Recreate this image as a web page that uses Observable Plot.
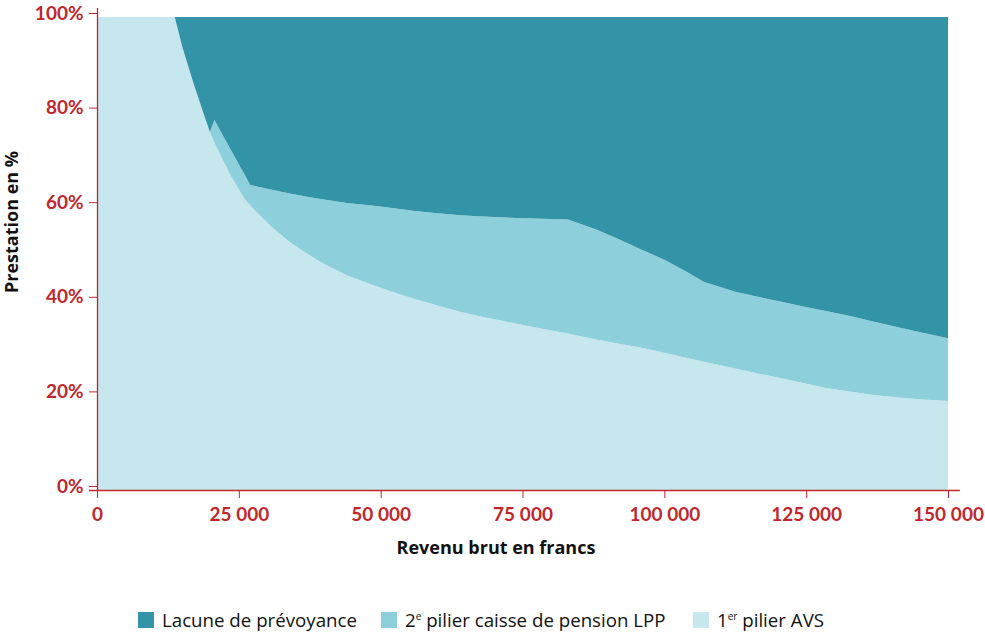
<!DOCTYPE html>
<html>
<head>
<meta charset="utf-8">
<script src="https://cdn.jsdelivr.net/npm/d3@7"></script>
<script src="https://cdn.jsdelivr.net/npm/@observablehq/plot@0.6"></script>
<style>
  html, body { margin: 0; padding: 0; background: #fff; }
  body { width: 985px; height: 633px; overflow: hidden; font-family: "Open Sans", Lato, sans-serif; }
  #legend { position: relative; height: 33px; font-size: 18.7px; color: #111; }
  .item { position: absolute; top: 7px; display: flex; align-items: center; white-space: nowrap; }
  .sw { width: 16px; height: 16px; margin-right: 8px; }
  sup { font-size: 10px; vertical-align: 7px; line-height: 0; }
</style>
</head>
<body>
<div id="chart"></div>
<div id="legend"></div>
<script>
// Data: gross income (francs) and benefit shares in % of income
const incomes = [0, 13700, 15000, 17000, 19000, 19900, 20700, 23500, 26000, 27000, 28000, 31000, 34000, 37000, 40000, 44000, 48000, 52000, 56000, 60000, 64000, 68000, 72000, 77000, 83000, 88000, 92000, 96000, 100000, 104000, 107000, 112500, 116500, 120600, 124700, 128700, 132700, 136800, 140800, 144900, 150000];
const avs = [100, 100, 93.8, 86.0, 78.8, 75.7, 73.4, 66.6, 61.6, 60.2, 58.9, 55.4, 52.4, 50.0, 47.8, 45.4, 43.6, 41.9, 40.4, 39.0, 37.7, 36.6, 35.6, 34.4, 33.1, 31.8, 30.9, 30.1, 29.0, 27.9, 27.1, 25.7, 24.65, 23.6, 22.55, 21.5, 20.8, 20.1, 19.6, 19.2, 18.8];
const lpp = [0, 0, 0, 0, 0, 0, 4.8, 5.5, 5.1, 4.3, 5.3, 8.0, 10.3, 12.0, 13.6, 15.3, 16.6, 17.7, 18.6, 19.5, 20.4, 21.2, 22.0, 23.0, 24.1, 23.3, 22.1, 20.7, 19.7, 18.2, 16.9, 16.2, 16.2, 16.2, 16.2, 16.3, 16.0, 15.5, 14.9, 14.2, 13.3];
const seriesNames = ["1er pilier AVS", "2e pilier caisse de pension LPP", "Lacune de prévoyance"];
const seriesColors = ["#c6e7ee", "#8ecfdc", "#3494a7"];
const xTicks = [0, 25000, 50000, 75000, 100000, 125000, 150000];
const yTicks = [0, 20, 40, 60, 80, 100];

const rows = [];
incomes.forEach((x, i) => {
  rows.push({x, series: seriesNames[0], v: avs[i]});
  rows.push({x, series: seriesNames[1], v: lpp[i]});
  rows.push({x, series: seriesNames[2], v: Math.max(0, 100 - avs[i] - lpp[i])});
});

const red = "#c0272d";
const fmt = d => d === 0 ? "0" : d3.format(",")(d).replace(/,/g, "\u202F");

const plot = Plot.plot({
  width: 985,
  height: 600,
  marginLeft: 97,
  marginRight: 37,
  marginTop: 17,
  marginBottom: 110,
  style: {fontFamily: "Lato, sans-serif", background: "white", overflow: "visible"},
  x: {domain: [0, 150000]},
  y: {domain: [0, 100]},
  color: {domain: seriesNames, range: seriesColors},
  marks: [
    Plot.areaY(rows, {x: "x", y: "v", fill: "series", order: seriesNames}),
    Plot.ruleY([0], {x1: -1408, x2: 152100, stroke: red, strokeWidth: 1.3, clip: false}),
    Plot.ruleX([0], {y1: 0, y2: 101.9, stroke: red, strokeWidth: 1.3}),
    Plot.axisX({ticks: xTicks, tickFormat: fmt, tickSize: 8, tickPadding: 9, stroke: red, fill: red, color: red, fontSize: 19, fontWeight: "bold", label: null}),
    Plot.axisY({ticks: yTicks, tickFormat: d => d + "%", tickSize: 8, tickPadding: 6, stroke: red, fill: red, color: red, fontSize: 19, fontWeight: "bold", dy: -4, label: null}),
    Plot.text(["Revenu brut en francs"], {frameAnchor: "bottom", textAnchor: "middle", dx: -27, dy: 63, fontSize: 18, fontWeight: "bold", fill: "#111", fontFamily: "Open Sans, sans-serif"}),
    Plot.text(["Prestation en %"], {frameAnchor: "left", textAnchor: "middle", rotate: -90, dx: -85, dy: -32, fontSize: 18, fontWeight: "bold", fill: "#111", fontFamily: "Open Sans, sans-serif"})
  ]
});
document.getElementById("chart").appendChild(plot);

// Legend
const legend = document.getElementById("legend");
const legendItems = [
  {html: "Lacune de prévoyance", color: seriesColors[2], left: 138},
  {html: "2<sup>e</sup> pilier caisse de pension LPP", color: seriesColors[1], left: 381},
  {html: "1<sup>er</sup> pilier AVS", color: seriesColors[0], left: 693}
];
legendItems.forEach(it => {
  const d = document.createElement("div");
  d.className = "item";
  d.style.left = it.left + "px";
  d.innerHTML = `<span class="sw" style="background:${it.color}"></span><span>${it.html}</span>`;
  legend.appendChild(d);
});
</script>
</body>
</html>
